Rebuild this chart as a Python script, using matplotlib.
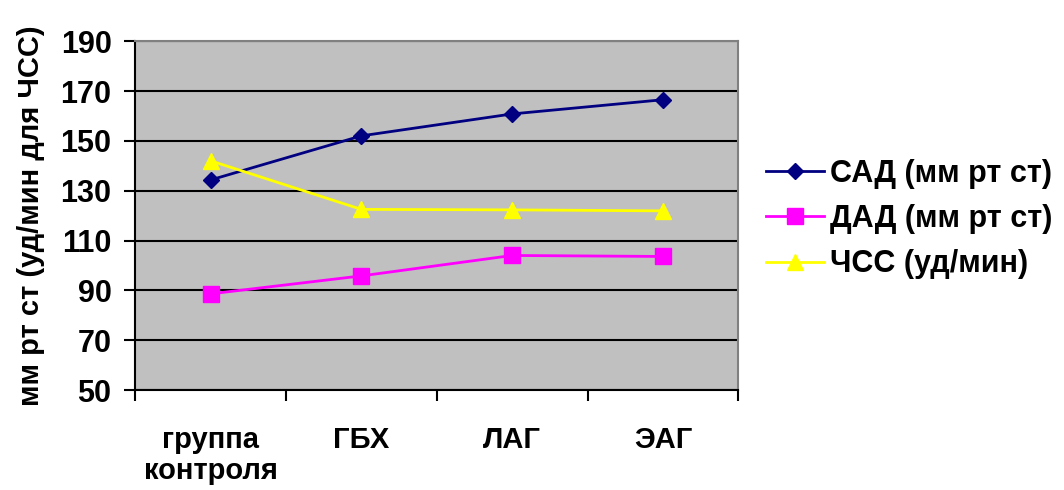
import numpy as np
import matplotlib.pyplot as plt

plt.rcParams['font.family'] = ['Liberation Sans', 'DejaVu Sans']
plt.rcParams['font.weight'] = 'bold'
plt.rcParams['axes.labelweight'] = 'bold'

groups = ['группа\nконтроля', 'ГБХ', 'ЛАГ', 'ЭАГ']
sad = [134.3, 152, 160.8, 166.5]
dad = [88.6, 95.8, 104, 103.6]
hr = [142, 122.5, 122.3, 121.9]

fig = plt.figure(figsize=(10.64, 4.9), dpi=100)
ax = fig.add_axes([0.127, 0.204, 0.567, 0.712])
ax.set_facecolor('#C0C0C0')

x = np.arange(len(groups)) + 0.5
ax.plot(x, sad, color='#000080', marker='D', markersize=8, lw=2,
        label='САД (мм рт ст)', zorder=3)
ax.plot(x, dad, color='#FF00FF', marker='s', markersize=11, lw=2,
        label='ДАД (мм рт ст)', zorder=3)
ax.plot(x, hr, color='#FFFF00', marker='^', markersize=11, lw=2,
        label='ЧСС (уд/мин)', zorder=3)

ax.set_xlim(0, len(groups))
ax.set_ylim(50, 190)
ax.set_yticks(np.arange(50, 191, 20))
ax.yaxis.grid(True, color='black', lw=1.5)
ax.set_axisbelow(True)

# category boundaries get the tick marks, centres get the labels
ax.set_xticks(np.arange(len(groups) + 1))
ax.set_xticklabels([])
ax.set_xticks(x, minor=True)
ax.set_xticklabels(groups, minor=True, linespacing=1.12)
ax.tick_params(axis='x', which='minor', length=0, pad=26, labelsize=21)
ax.tick_params(axis='x', which='major', length=8, width=1.5, direction='out')
ax.tick_params(axis='y', length=8, width=1.5, direction='out', labelsize=22, pad=9)

for s in ['left', 'bottom']:
    ax.spines[s].set_color('black')
    ax.spines[s].set_linewidth(1.5)
for s in ['top', 'right']:
    ax.spines[s].set_color('#808080')
    ax.spines[s].set_linewidth(1.5)

ax.set_ylabel('мм рт ст (уд/мин для ЧСС)', fontsize=21)
ax.yaxis.set_label_coords(-0.149, 0.5)

ax.legend(loc='center left', bbox_to_anchor=(1.0, 0.49), frameon=False,
          fontsize=22, handlelength=1.9, handletextpad=0.2, labelspacing=0.5)

fig.savefig('out.png', dpi=100)
